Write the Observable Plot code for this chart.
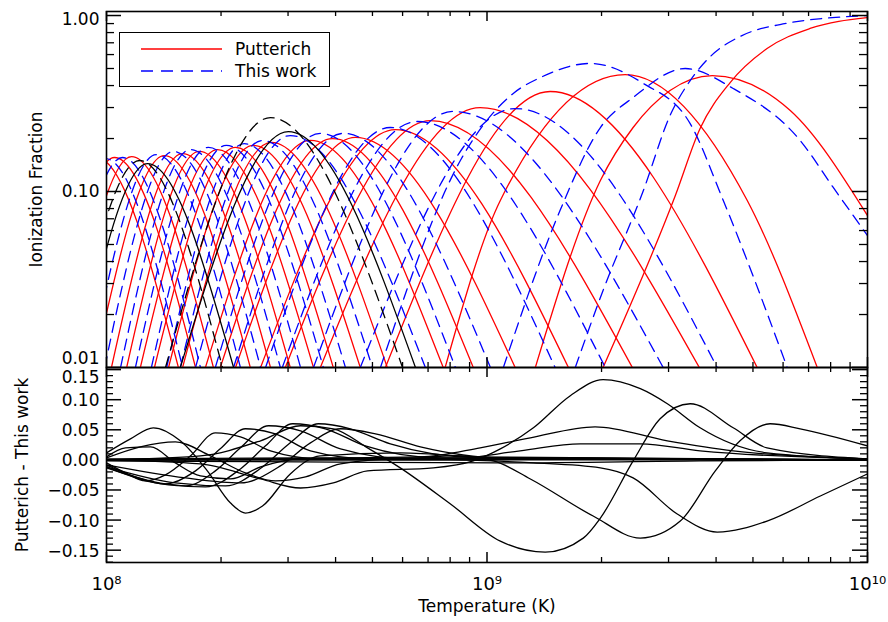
<!DOCTYPE html>
<html><head><meta charset="utf-8">
<script src="https://cdn.jsdelivr.net/npm/d3@7"></script>
<script src="https://cdn.jsdelivr.net/npm/@observablehq/plot@0.6"></script>
<style>
body{margin:0;background:#fff;}
#wrap{position:relative;width:888px;height:622px;font-family:"DejaVu Sans",sans-serif;background:#fff;overflow:hidden}
#toppanel,#botpanel{position:absolute;left:0;}
#toppanel{top:0}
#botpanel{top:360px}
#legend{position:absolute;left:119px;top:32px;width:209px;height:53px;border:1.6px solid #000;background:#fff;font-size:17px;}
</style></head><body>
<div id="wrap"><div id="botpanel"></div><div id="toppanel"></div>
<div id="legend">
<svg width="209" height="53" style="position:absolute;left:0;top:0">
<line x1="21" y1="16" x2="102" y2="16" stroke="#f00" stroke-width="1.4"/>
<line x1="21" y1="38" x2="102" y2="38" stroke="#00f" stroke-width="1.4" stroke-dasharray="12,8"/>
<text x="115" y="22" font-size="17" font-family="DejaVu Sans">Putterich</text>
<text x="115" y="44" font-size="17" font-family="DejaVu Sans">This work</text>
</svg></div>
</div>
<script>
// ---- Top panel: ionization fractions; each curve = list of [log10 T, fraction]
const putterichCurves = [
  [[7.803,.01],[7.974,.156],[8.189,.01]],
  [[7.848,.01],[8.021,.156],[8.234,.01]],
  [[7.890,.01],[8.066,.158],[8.281,.01]],
  [[7.924,.01],[8.108,.144],[8.334,.01]],
  [[7.968,.01],[8.152,.160],[8.378,.01]],
  [[8.013,.01],[8.200,.164],[8.431,.01]],
  [[8.053,.01],[8.244,.169],[8.483,.01]],
  [[8.089,.01],[8.292,.173],[8.544,.01]],
  [[8.126,.01],[8.339,.178],[8.596,.01]],
  [[8.163,.01],[8.386,.183],[8.667,.01]],
  [[8.200,.01],[8.433,.190],[8.738,.01]],
  [[8.194,.01],[8.478,.219],[8.812,.01]],
  [[8.260,.01],[8.536,.195],[8.885,.01]],
  [[8.299,.01],[8.594,.200],[8.964,.01]],
  [[8.339,.01],[8.654,.203],[9.074,.01]],
  [[8.405,.01],[8.759,.225],[9.214,.01]],
  [[8.470,.01],[8.851,.253],[9.382,.01]],
  [[8.562,.01],[8.982,.300],[9.558,.01]],
  [[8.733,.01],[9.166,.370],[9.710,.01]],
  [[8.890,.01],[9.035,.0889],[9.363,.462],[9.684,.0889],[9.868,.01]],
  [[9.127,.01],[9.298,.1155],[9.384,.2311],[9.481,.3749],[9.592,.456],[9.797,.2885],[10.0,.073]],
  [[9.305,.01],[9.495,.0949],[9.560,.228],[9.639,.416],[9.736,.649],[9.849,.844],[10.0,.974]]
];
const putterichBlack = [3, 11];
const thisWorkCurves = [
  [[7.832,.01],[7.997,.154],[8.200,.01]],
  [[7.871,.01],[8.042,.156],[8.247,.01]],
  [[7.900,.01],[8.087,.150],[8.305,.01]],
  [[7.955,.01],[8.131,.162],[8.352,.01]],
  [[7.995,.01],[8.176,.169],[8.405,.01]],
  [[8.037,.01],[8.221,.173],[8.457,.01]],
  [[8.076,.01],[8.268,.178],[8.510,.01]],
  [[8.118,.01],[8.315,.183],[8.570,.01]],
  [[8.158,.01],[8.362,.187],[8.628,.01]],
  [[8.194,.01],[8.410,.195],[8.699,.01]],
  [[8.155,.01],[8.431,.263],[8.778,.01]],
  [[8.234,.01],[8.483,.208],[8.838,.01]],
  [[8.286,.01],[8.562,.214],[8.917,.01]],
  [[8.334,.01],[8.623,.214],[9.009,.01]],
  [[8.418,.01],[8.746,.231],[9.179,.01]],
  [[8.462,.01],[8.817,.250],[9.311,.01]],
  [[8.544,.01],[8.911,.285],[9.463,.01]],
  [[8.667,.01],[9.074,.296],[9.605,.01]],
  [[8.720,.01],[8.930,.150],[9.069,.361],[9.140,.444],[9.271,.534],[9.411,.411],[9.534,.243],[9.621,.0889],[9.789,.01]],
  [[9.043,.01],[9.193,.079],[9.298,.231],[9.384,.342],[9.521,.500],[9.647,.385],[9.823,.195],[9.910,.1054],[10.0,.0562]],
  [[9.232,.01],[9.305,.0274],[9.411,.1013],[9.481,.270],[9.534,.427],[9.587,.585],[9.665,.760],[9.770,.889],[10.0,1.0]]
];
const thisWorkBlack = [2, 10];

// ---- Bottom panel: Putterich - This work; each curve = list of [log10 T, difference]
const diffCurves = [
  [[8.000,.0117],[8.063,.035],[8.123,.0533],[8.194,.0317],[8.265,-.0183],[8.326,-.0717],[8.365,-.0883],[8.410,-.0767],[8.483,-.0233],[8.562,.0067],[8.772,.0117],[9.035,.0033],[10.0,0]],
  [[8.000,-.005],[8.050,-.0217],[8.102,-.035],[8.155,-.025],[8.221,.0067],[8.286,.045],[8.352,.0383],[8.431,.015],[8.562,.0017],[10.0,0]],
  [[8.000,-.0083],[8.076,-.0283],[8.155,-.04],[8.234,-.0183],[8.299,.0183],[8.365,.0517],[8.444,.0433],[8.536,.015],[8.693,.0017],[10.0,0]],
  [[8.000,-.0117],[8.116,-.0367],[8.208,-.0433],[8.286,-.0183],[8.352,.02],[8.426,.0567],[8.510,.0483],[8.615,.0183],[8.799,.0017],[10.0,0]],
  [[8.000,-.0133],[8.155,-.04],[8.260,-.045],[8.352,-.015],[8.418,.0233],[8.489,.06],[8.575,.0517],[8.680,.0233],[8.877,.0033],[10.0,0]],
  [[8.000,-.0117],[8.181,-.0383],[8.313,-.0433],[8.410,-.0117],[8.483,.0283],[8.557,.06],[8.641,.0517],[8.746,.0267],[8.956,.005],[10.0,0]],
  [[8.000,-.0083],[8.208,-.03],[8.352,-.0383],[8.457,-.01],[8.536,.0283],[8.615,.0517],[8.707,.0433],[8.825,.0217],[9.035,.0033],[10.0,0]],
  [[8.000,.005],[8.050,.02],[8.116,.0217],[8.181,-.005],[8.247,-.0267],[8.326,-.0317],[8.405,-.0117],[8.510,.0017],[10.0,0]],
  [[8.000,.0033],[8.089,.0217],[8.181,.03],[8.273,.0067],[8.365,-.0217],[8.444,-.035],[8.523,-.0283],[8.615,-.0067],[8.772,.0017],[10.0,0]],
  [[8.000,0],[8.247,.0067],[8.405,.0317],[8.510,.0567],[8.596,.0517],[8.686,.02],[8.772,-.0133],[8.904,-.0733],[9.035,-.135],[9.153,-.1533],[9.253,-.13],[9.298,-.0967],[9.384,-.0017],[9.455,.0683],[9.534,.0933],[9.647,.0533],[9.736,.02],[10.0,.0017]],
  [[8.000,0],[8.247,-.0067],[8.405,-.0317],[8.510,-.0467],[8.596,-.0383],[8.686,-.0183],[8.859,-.0133],[8.964,-.0017],[9.035,.0183],[9.122,.0533],[9.219,.1067],[9.305,.1333],[9.403,.1183],[9.474,.0933],[9.560,.0533],[9.736,.0117],[10.0,.0017]],
  [[8.000,0],[8.772,.0017],[8.904,.0067],[9.017,-.0017],[9.114,-.0317],[9.279,-.0933],[9.403,-.13],[9.508,-.1017],[9.600,-.0183],[9.665,.0317],[9.744,.06],[9.823,.0517],[10.0,.0233]],
  [[8.000,0],[8.904,0],[9.122,-.005],[9.298,-.0133],[9.384,-.03],[9.500,-.09],[9.605,-.12],[9.736,-.1017],[9.876,-.06],[10.0,-.0233]],
  [[8.000,0],[8.825,.005],[8.982,.02],[9.114,.0367],[9.284,.055],[9.474,.0317],[9.647,.015],[10.0,.0017]],
  [[8.000,0],[8.904,.0017],[9.087,.015],[9.245,.0267],[9.403,.0267],[9.560,.015],[10.0,.0017]],
  [[8.000,-.0017],[8.510,-.0033],[9.035,-.005],[9.560,-.0017],[10.0,0]],
  [[8.000,.0017],[8.510,.0033],[9.035,.0033],[9.560,.0017],[10.0,0]],
  [[8.000,0],[10.0,0]]
];

const xMajor = [1e8, 1e9, 1e10];
const xMinor = [2e8,3e8,4e8,5e8,6e8,7e8,8e8,9e8,2e9,3e9,4e9,5e9,6e9,7e9,8e9,9e9];
const yTopMajor = [0.01, 0.1, 1];
const yTopMinor = [0.02,0.03,0.04,0.05,0.06,0.07,0.08,0.09,0.2,0.3,0.4,0.5,0.6,0.7,0.8,0.9];
const yBotMajor = [-0.15,-0.10,-0.05,0,0.05,0.10,0.15];
const yBotMinor = [-0.17,-0.16,-0.14,-0.13,-0.12,-0.11,-0.09,-0.08,-0.07,-0.06,-0.04,-0.03,-0.02,-0.01,0.01,0.02,0.03,0.04,0.06,0.07,0.08,0.09,0.11,0.12,0.13,0.14];

function rows(curves, blackIdx, prefix) {
  const out = [];
  curves.forEach((c, i) => c.forEach(([lt, v]) => out.push({T: 10 ** lt, v, id: prefix + i, black: blackIdx.includes(i)})));
  return out;
}
const redRows = rows(putterichCurves, putterichBlack, "p");
const blueRows = rows(thisWorkCurves, thisWorkBlack, "t");
const diffRows = rows(diffCurves, [], "d");

const W = 888, ML = 106, MR = 21;
const PW = W - ML - MR;
const font = "DejaVu Sans, sans-serif";
const fmt2 = d3.format(".2f");

// top panel
const TH = 368, TMT = 11, TMB = 1, TPH = TH - TMT - TMB;
const topChart = Plot.plot({
  width: W, height: TH, marginLeft: ML, marginRight: MR, marginTop: TMT, marginBottom: TMB,
  style: {fontFamily: font, fontSize: "17px", background: "transparent", overflow: "visible"},
  x: {type: "log", domain: [1e8, 1e10], axis: null},
  y: {type: "log", domain: [0.01, 1.054], axis: null},
  marks: [
    Plot.line(redRows.filter(d => !d.black), {x: "T", y: "v", z: "id", stroke: "#ff0000", strokeWidth: 1.3, curve: "monotone-x", clip: true}),
    Plot.line(blueRows.filter(d => !d.black), {x: "T", y: "v", z: "id", stroke: "#0000ff", strokeWidth: 1.3, strokeDasharray: "11,7", curve: "monotone-x", clip: true}),
    Plot.line(redRows.filter(d => d.black), {x: "T", y: "v", z: "id", stroke: "#000", strokeWidth: 1.3, curve: "monotone-x", clip: true}),
    Plot.line(blueRows.filter(d => d.black), {x: "T", y: "v", z: "id", stroke: "#000", strokeWidth: 1.3, strokeDasharray: "11,7", curve: "monotone-x", clip: true}),
    Plot.tickX(xMinor, {x: d => d, insetTop: TPH - 5, strokeWidth: 1.3}),
    Plot.tickX(xMajor, {x: d => d, insetTop: TPH - 10, strokeWidth: 1.5}),
    Plot.tickX(xMinor, {x: d => d, insetBottom: TPH - 5, strokeWidth: 1.3}),
    Plot.tickX(xMajor, {x: d => d, insetBottom: TPH - 10, strokeWidth: 1.5}),
    Plot.tickY(yTopMinor, {y: d => d, insetRight: PW - 8, strokeWidth: 1.3}),
    Plot.tickY(yTopMajor, {y: d => d, insetRight: PW - 15, strokeWidth: 1.5}),
    Plot.tickY(yTopMinor, {y: d => d, insetLeft: PW - 8, strokeWidth: 1.3}),
    Plot.tickY(yTopMajor, {y: d => d, insetLeft: PW - 15, strokeWidth: 1.5}),
    Plot.axisY([1], {tickSize: 0, tickPadding: 7, tickFormat: fmt2, fontSize: 17, label: null, dy: 4}),
    Plot.axisY([0.1], {tickSize: 0, tickPadding: 7, tickFormat: fmt2, fontSize: 17, label: null}),
    Plot.axisY([0.01], {tickSize: 0, tickPadding: 7, tickFormat: fmt2, fontSize: 17, label: null, dy: -9}),
    Plot.text(["Ionization Fraction"], {frameAnchor: "left", textAnchor: "middle", rotate: -90, dx: -70, fontSize: 17}),
    Plot.frame({strokeWidth: 1.6})
  ]
});
document.getElementById("toppanel").appendChild(topChart);

// bottom panel
const BH = 262, BMT = 7, BMB = 60, BPH = BH - BMT - BMB;
const botChart = Plot.plot({
  width: W, height: BH, marginLeft: ML, marginRight: MR, marginTop: BMT, marginBottom: BMB,
  style: {fontFamily: font, fontSize: "17px", background: "transparent", overflow: "visible"},
  x: {type: "log", domain: [1e8, 1e10], axis: null},
  y: {domain: [-0.1705, 0.1535], axis: null},
  marks: [
    Plot.line(diffRows, {x: "T", y: "v", z: "id", stroke: "#000", strokeWidth: 1.3, curve: "monotone-x", clip: true}),
    Plot.tickX(xMinor, {x: d => d, insetTop: BPH - 5, strokeWidth: 1.3}),
    Plot.tickX(xMajor, {x: d => d, insetTop: BPH - 10, strokeWidth: 1.5}),
    Plot.tickX(xMinor, {x: d => d, insetBottom: BPH - 5, strokeWidth: 1.3}),
    Plot.tickX(xMajor, {x: d => d, insetBottom: BPH - 10, strokeWidth: 1.5}),
    Plot.tickY(yBotMinor, {y: d => d, insetRight: PW - 7, strokeWidth: 1.3}),
    Plot.tickY(yBotMajor, {y: d => d, insetRight: PW - 15, strokeWidth: 1.5}),
    Plot.tickY(yBotMinor, {y: d => d, insetLeft: PW - 7, strokeWidth: 1.3}),
    Plot.tickY(yBotMajor, {y: d => d, insetLeft: PW - 15, strokeWidth: 1.5}),
    Plot.axisY([0.15], {tickSize: 0, tickPadding: 7, tickFormat: fmt2, fontSize: 17, label: null, dy: 8}),
    Plot.axisY([-0.15,-0.10,-0.05,0,0.05,0.10], {tickSize: 0, tickPadding: 7, tickFormat: fmt2, fontSize: 17, label: null, dy: 1}),
    Plot.axisX(xMajor, {tickSize: 0, tickPadding: 15, tickFormat: d => ({1e8: "10⁸", 1e9: "10⁹", 1e10: "10¹⁰"})[d], fontSize: 18, label: null}),
    Plot.text(["Temperature (K)"], {frameAnchor: "bottom", dy: 49, fontSize: 17}),
    Plot.text(["Putterich - This work"], {frameAnchor: "left", textAnchor: "middle", rotate: -90, dx: -84, fontSize: 17}),
    Plot.frame({strokeWidth: 1.6})
  ]
});
document.getElementById("botpanel").appendChild(botChart);
</script>
</body></html>
